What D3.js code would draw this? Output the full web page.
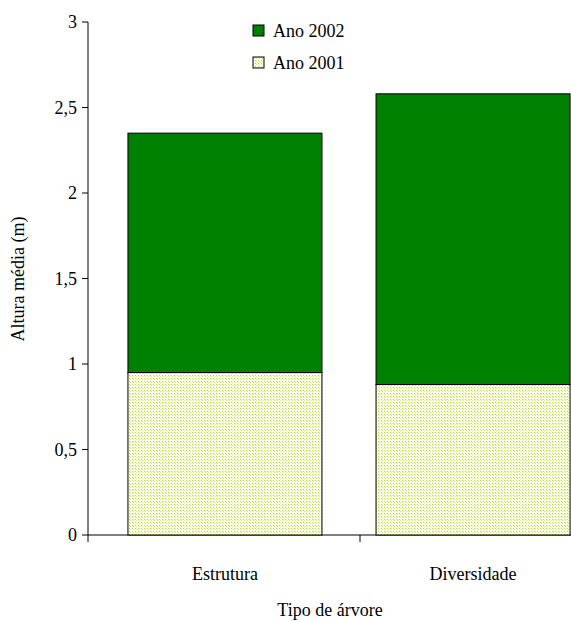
<!DOCTYPE html><html><head><meta charset="utf-8"><script src="https://cdn.jsdelivr.net/npm/d3@7"></script>
<style>body{margin:0;background:#fff}text{font-family:"Liberation Serif","Times New Roman",serif}</style></head><body><svg id="c" width="571" height="621"></svg>
<script>
const categories=["Estrutura","Diversidade"];
const ano2001=[0.95,0.88];
const ano2002=[1.40,1.70];
const yTicks=[0,0.5,1,1.5,2,2.5,3];
const svg=d3.select("#c");
const defs=svg.append("defs");
const p=defs.append("pattern").attr("id","dots").attr("width",3).attr("height",3).attr("patternUnits","userSpaceOnUse");
p.append("rect").attr("width",3).attr("height",3).attr("fill","#fbfde8");
p.append("rect").attr("width",1).attr("height",1).attr("fill","#b8d840");
p.append("rect").attr("x",1).attr("y",1).attr("width",1).attr("height",1).attr("fill","#d3e880");
const y=d3.scaleLinear().domain([0,3]).range([535,22]);
const x=d3.scaleBand().domain(categories).range([88,610]).paddingInner(0.218).paddingOuter(0.161);
const g=svg.append("g");
g.append("line").attr("x1",88).attr("x2",88).attr("y1",y(3)).attr("y2",y(0)).attr("stroke","#000");
g.append("line").attr("x1",88).attr("x2",571).attr("y1",y(0)).attr("y2",y(0)).attr("stroke","#000");
yTicks.forEach(t=>{g.append("line").attr("x1",82).attr("x2",88).attr("y1",y(t)).attr("y2",y(t)).attr("stroke","#000");
g.append("text").attr("x",77).attr("y",y(t)+6).attr("text-anchor","end").attr("font-size",18).text(String(t).replace(".",","));});
const midTick=360;
[88,midTick].forEach(v=>g.append("line").attr("x1",v).attr("x2",v).attr("y1",y(0)).attr("y2",y(0)+7).attr("stroke","#000"));
categories.forEach((c,i)=>{
 g.append("rect").attr("x",x(c)).attr("width",x.bandwidth()).attr("y",y(ano2001[i])).attr("height",y(0)-y(ano2001[i])).attr("fill","url(#dots)").attr("stroke","#000");
 g.append("rect").attr("x",x(c)).attr("width",x.bandwidth()).attr("y",y(ano2001[i]+ano2002[i])).attr("height",y(ano2001[i])-y(ano2001[i]+ano2002[i])).attr("fill","#008000").attr("stroke","#000");
 g.append("text").attr("x",x(c)+x.bandwidth()/2).attr("y",580).attr("text-anchor","middle").attr("font-size",18).text(c);
});
g.append("text").attr("x",330).attr("y",616).attr("text-anchor","middle").attr("font-size",18).text("Tipo de árvore");
g.append("text").attr("transform","translate(24,279) rotate(-90)").attr("text-anchor","middle").attr("font-size",18).text("Altura média (m)");
[["Ano 2002","#008000"],["Ano 2001","url(#dots)"]].forEach((d,i)=>{
 g.append("rect").attr("x",253).attr("y",25+i*32).attr("width",11).attr("height",11).attr("fill",d[1]).attr("stroke","#000");
 g.append("text").attr("x",273).attr("y",37+i*32).attr("font-size",18).text(d[0]);
});
</script></body></html>
